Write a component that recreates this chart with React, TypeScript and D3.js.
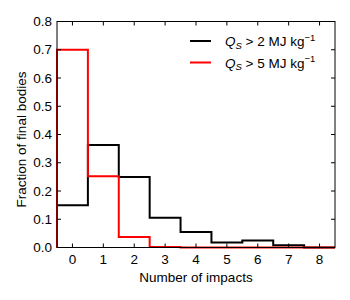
import { useEffect, useRef } from "react";
import * as d3 from "d3";

const bins = [0, 1, 2, 3, 4, 5, 6, 7, 8];
const lowThreshold = [0.15, 0.363, 0.25, 0.105, 0.055, 0.018, 0.025, 0.008, 0.0];
const highThreshold = [0.7, 0.252, 0.037, 0.002, 0.0, 0.0, 0.0, 0.0, 0.0];
const yTicks = [0, 0.1, 0.2, 0.3, 0.4, 0.5, 0.6, 0.7, 0.8];
const legendThresholds = ["2", "5"];
const colors = ["#000000", "#ff0000"];

export default function App() {
  const svgRef = useRef<SVGSVGElement>(null);

  useEffect(() => {
    if (!svgRef.current) return;
    const svg = d3.select(svgRef.current);
    svg.selectAll("*").remove();

    const margin = { top: 21.5, right: 15, bottom: 52.5, left: 57 };
    const width = 350, height = 300;
    const font = "'Liberation Sans', Arial, sans-serif";
    const fs = 13.5;

    const x = d3.scaleLinear().domain([-0.5, 8.5]).range([margin.left, width - margin.right]);
    const y = d3.scaleLinear().domain([0, 0.8]).range([height - margin.bottom, margin.top]);

    // step outline like matplotlib histtype='step'
    const stepPath = (vals: number[]) => {
      const pts: [number, number][] = [[x(bins[0] - 0.5), y(0)]];
      vals.forEach((v, i) => {
        pts.push([x(bins[i] - 0.5), y(v)]);
        pts.push([x(bins[i] + 0.5), y(v)]);
      });
      pts.push([x(bins[bins.length - 1] + 0.5), y(0)]);
      return d3.line()(pts);
    };

    [lowThreshold, highThreshold].forEach((vals, i) => {
      svg.append("path").attr("d", stepPath(vals)).attr("fill", "none")
        .attr("stroke", colors[i]).attr("stroke-width", 2).attr("stroke-linejoin", "miter");
    });

    const x0 = x.range()[0], x1 = x.range()[1], y0 = y.range()[0], y1 = y.range()[1];
    const tl = 4;
    const g = svg.append("g").attr("stroke", "#000").attr("stroke-width", 1);
    bins.forEach((b) => {
      g.append("line").attr("x1", x(b)).attr("x2", x(b)).attr("y1", y0).attr("y2", y0 - tl);
      g.append("line").attr("x1", x(b)).attr("x2", x(b)).attr("y1", y1).attr("y2", y1 + tl);
    });
    yTicks.forEach((t) => {
      g.append("line").attr("x1", x0).attr("x2", x0 + tl).attr("y1", y(t)).attr("y2", y(t));
      g.append("line").attr("x1", x1).attr("x2", x1 - tl).attr("y1", y(t)).attr("y2", y(t));
    });
    svg.append("rect").attr("x", x0).attr("y", y1).attr("width", x1 - x0).attr("height", y0 - y1)
      .attr("fill", "none").attr("stroke", "#000").attr("stroke-width", 1);

    svg.append("g").selectAll("text").data(bins).join("text")
      .attr("x", (d) => x(d)).attr("y", y0 + 16).attr("text-anchor", "middle")
      .attr("font-family", font).attr("font-size", fs).text((d) => d);
    svg.append("g").selectAll("text").data(yTicks).join("text")
      .attr("x", x0 - 5).attr("y", (d) => y(d) + 4.5).attr("text-anchor", "end")
      .attr("font-family", font).attr("font-size", fs).text((d) => d.toFixed(1));

    svg.append("text").attr("x", (x0 + x1) / 2).attr("y", 282).attr("text-anchor", "middle")
      .attr("font-family", font).attr("font-size", fs).text("Number of impacts");
    svg.append("text").attr("transform", `translate(26,${(y0 + y1) / 2 + 5}) rotate(-90)`)
      .attr("text-anchor", "middle").attr("font-family", font).attr("font-size", fs)
      .text("Fraction of final bodies");

    const legend = svg.append("g").attr("font-family", font).attr("font-size", fs);
    legendThresholds.forEach((thr, i) => {
      const ly = 41 + i * 21.5;
      legend.append("line").attr("x1", 190).attr("x2", 211).attr("y1", ly).attr("y2", ly)
        .attr("stroke", colors[i]).attr("stroke-width", 2);
      const t = legend.append("text").attr("x", 225).attr("y", ly + 5);
      t.append("tspan").attr("font-style", "italic").text("Q");
      t.append("tspan").attr("font-style", "italic").attr("font-size", 9.5).attr("dy", 2.5).text("S");
      t.append("tspan").attr("dy", -2.5).text(` > ${thr} MJ kg`);
      t.append("tspan").attr("font-size", 9.5).attr("dy", -5.5).text("−1");
    });
  }, []);

  return <svg ref={svgRef} width={350} height={300} style={{ display: "block", margin: -8 }} />;
}
